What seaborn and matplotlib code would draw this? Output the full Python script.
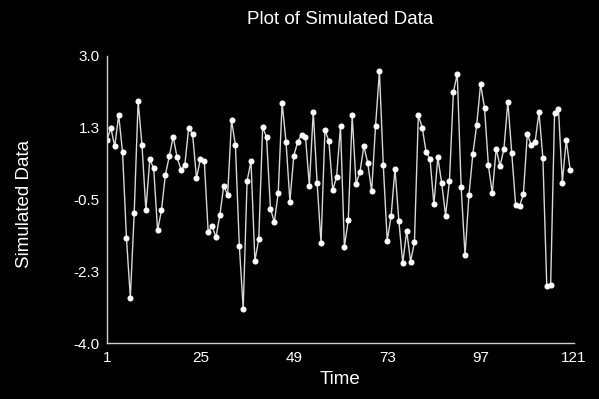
import numpy as np
import pandas as pd
import matplotlib
matplotlib.use("Agg")
import matplotlib.pyplot as plt
import seaborn as sns

# simulated series
sim_values = [
    0.95, 1.24, 0.79, 1.56, 0.65, -1.43, -2.89, -0.82, 1.90, 0.82,
    -0.76, 0.48, 0.26, -1.25, -0.76, 0.10, 0.55, 1.03, 0.53, 0.23,
    0.34, 1.25, 1.09, 0.02, 0.48, 0.44, -1.29, -1.14, -1.42, -0.88,
    -0.17, -0.39, 1.43, 0.82, -1.62, -3.16, -0.05, 0.43, -1.99, -1.47,
    1.27, 1.01, -0.72, -1.05, -0.34, 1.85, 0.91, -0.55, 0.57, 0.90,
    1.08, 1.03, -0.17, 1.64, -0.11, -1.56, 1.19, 0.93, -0.27, 0.05,
    1.29, -1.65, -1.00, 1.55, -0.12, 0.17, 0.80, 0.39, -0.30, 1.28,
    2.62, 0.33, -1.50, -0.91, 0.25, -1.03, -2.05, -1.26, -2.01, -1.54,
    1.55, 1.25, 0.65, 0.49, -0.62, 0.53, -0.10, -0.89, -0.04, 2.11,
    2.56, -0.20, -1.86, -0.40, 0.60, 1.32, 2.31, 1.73, 0.33, -0.35,
    0.74, 0.31, 0.74, 1.88, 0.63, -0.63, -0.67, -0.36, 1.10, 0.82,
    0.90, 1.63, 0.51, -2.60, -2.57, 1.60, 1.70, -0.09, 0.95, 0.22,
]
time = np.arange(1, len(sim_values) + 1)

x_ticks = [1, 25, 49, 73, 97, 121]
y_ticks = [3.0, 1.25, -0.5, -2.25, -4.0]
y_tick_labels = ["3.0", "1.3", "-0.5", "-2.3", "-4.0"]

df = pd.DataFrame({"Time": time, "Simulated Data": sim_values})

sns.set_style("dark")
plt.rcParams["font.family"] = ["Liberation Sans", "DejaVu Sans"]

fig = plt.figure(figsize=(5.99, 3.99), dpi=100, facecolor="black")
ax = fig.add_axes([0.1786, 0.1396, 0.7797, 0.7208])
ax.set_facecolor("black")

sns.lineplot(data=df, x="Time", y="Simulated Data", ax=ax, color="#d8d8d8",
             linewidth=1.0, marker="o", markersize=3.6,
             markerfacecolor="white", markeredgecolor="white")

ax.set_xlim(1, 121)
ax.set_ylim(-4.0, 3.0)
ax.set_xticks(x_ticks)
ax.set_xticks(np.arange(1, 122, 6), minor=True)
ax.set_yticks(y_ticks)
ax.set_yticklabels(y_tick_labels)
ax.set_yticks(np.arange(-4.0, 3.01, 0.35), minor=True)
ax.grid(False)

for side in ["top", "right"]:
    ax.spines[side].set_visible(False)
for side in ["left", "bottom"]:
    ax.spines[side].set_visible(True)
    ax.spines[side].set_color("#d0d0d0")
    ax.spines[side].set_linewidth(1.0)

ax.tick_params(axis="both", which="both", colors="#e0e0e0", direction="out",
               length=3.8, width=1.0, labelsize=11)
ax.tick_params(axis="y", which="major", pad=1.5)
ax.tick_params(axis="x", which="major", pad=2.0)
ax.tick_params(axis="both", which="minor", labelbottom=False, labelleft=False)
for lbl in ax.get_xticklabels() + ax.get_yticklabels():
    lbl.set_color("white")

ax.set_xlabel("")
ax.set_ylabel("")
fig.text(340.5 / 599, 1 - 380 / 399, "Time", color="white", fontsize=13.5,
         ha="center", va="center")
fig.text(24.5 / 599, 1 - 204 / 399, "Simulated Data", color="white",
         fontsize=13.5, rotation=90, ha="center", va="center")
fig.text(340.5 / 599, 1 - 19.5 / 399, "Plot of Simulated Data", color="white",
         fontsize=13.5, ha="center", va="center")

fig.savefig("out.png", dpi=100, facecolor="black")
plt.close(fig)
